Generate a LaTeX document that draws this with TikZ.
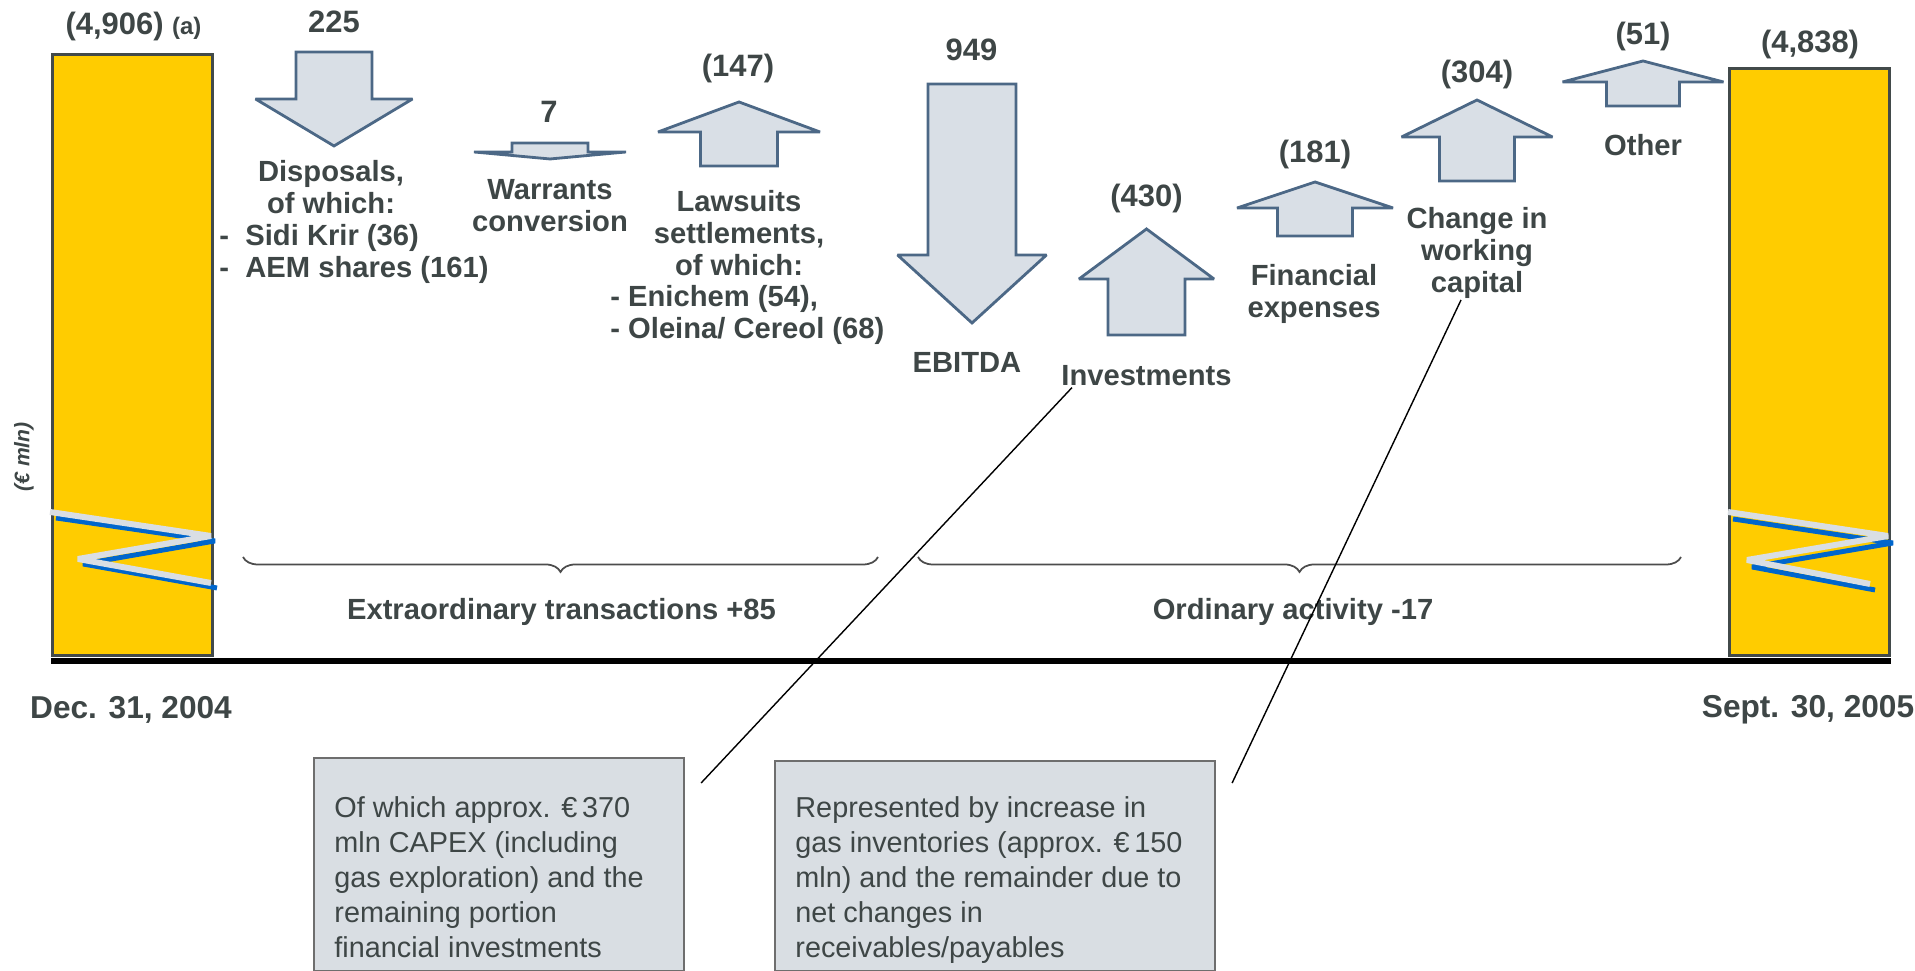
\documentclass[tikz,border=0pt]{standalone}
\usepackage{fontspec}
\setmainfont{Liberation Sans}
\usetikzlibrary{positioning,decorations.pathreplacing}

\definecolor{txtgray}{RGB}{62,70,70}
\definecolor{arrowfill}{RGB}{217,223,230}
\definecolor{arrowline}{RGB}{76,104,134}
\definecolor{baryellow}{RGB}{255,204,0}
\definecolor{barline}{RGB}{66,74,74}
\definecolor{breakblue}{RGB}{0,102,204}
\definecolor{breakgray}{RGB}{217,222,227}
\definecolor{boxfill}{RGB}{217,222,227}
\definecolor{boxline}{RGB}{110,110,110}

% block arrow: centre x, half shaft, half head, y of tail, y of head base, y of tip
\newcommand{\flowarrow}[6]{%
  \draw[blockarrow] (#1-#2,#4) -- (#1+#2,#4) -- (#1+#2,#5) -- (#1+#3,#5) -- (#1,#6) -- (#1-#3,#5) -- (#1-#2,#5) -- cycle;}

\begin{document}
\begin{tikzpicture}[thick,
    val/.style={font=\fontsize{8.8}{10}\selectfont\bfseries, text=txtgray, inner sep=0pt},
    lbl/.style={font=\fontsize{8.3}{9.1}\selectfont\bfseries, text=txtgray, align=center, inner sep=0pt},
    date/.style={font=\fontsize{9}{10}\selectfont\bfseries, text=txtgray, inner sep=0pt},
    blockarrow/.style={draw=arrowline, fill=arrowfill, line width=0.8pt, line join=miter, miter limit=2},
    bar/.style={draw=barline, fill=baryellow, line width=0.9pt, inner sep=0pt},
    breakline/.style={line join=bevel, line cap=butt},
    notebox/.style={draw=boxline, fill=boxfill, line width=0.6pt, inner sep=0pt},
    notetext/.style={font=\fontsize{8.2}{9.96}\selectfont, text=txtgray, align=left, inner sep=0pt},
    group/.style={decorate, decoration={brace, mirror, amplitude=0.15cm}, draw=black!70, line width=0.5pt},
    callout/.style={draw=black, line width=0.4pt}]
    \useasboundingbox (0,0) rectangle (19.15,9.71);

    % start and end bars
    \node[bar, minimum width=1.6cm, minimum height=6.01cm, anchor=south west] at (0.51,3.14) (startbar) {};
    \node[bar, minimum width=1.6cm, minimum height=5.87cm, anchor=south west] at (17.28,3.14) (endbar) {};
    \draw[line width=1.9pt] ([yshift=-0.04cm]startbar.south west) -- ([yshift=-0.04cm]endbar.south east);

    % axis breaks
    \draw[breakline, breakblue, line width=1.4pt] (0.56,4.53) -- (2.15,4.30) -- (0.83,4.07) -- (2.17,3.83);
    \draw[breakline, breakgray, line width=1.7pt] (0.50,4.59) -- (2.11,4.35) -- (0.78,4.12) -- (2.11,3.88);
    \draw[breakline, breakblue, line width=1.4pt] (17.33,4.52) -- (18.93,4.28) -- (17.52,4.04) -- (18.75,3.81);
    \draw[breakline, breakgray, line width=1.7pt] (17.28,4.59) -- (18.88,4.35) -- (17.47,4.11) -- (18.70,3.87);

    \node[val] at (1.335,9.44) (vstart) {(4,906) {\fontsize{6.8}{8}\selectfont (a)}};
    \node[val] at (18.10,9.26) (vend) {(4,838)};
    \node[rotate=90, font=\fontsize{6}{7}\selectfont\bfseries\itshape, text=txtgray, inner sep=0pt] at (0.24,5.14) (unit) {(€ mln)};
    \node[date] at (1.31,2.61) (dstart) {Dec. 31, 2004};
    \node[date] at (18.08,2.61) (dend) {Sept. 30, 2005};

    % flows
    \flowarrow{3.34}{0.38}{0.785}{9.19}{8.72}{8.25}
    \flowarrow{5.50}{0.38}{0.76}{8.28}{8.19}{8.12}
    \flowarrow{7.39}{0.385}{0.81}{8.05}{8.39}{8.69}
    \flowarrow{9.72}{0.44}{0.745}{8.87}{7.16}{6.48}
    \flowarrow{11.465}{0.385}{0.675}{6.36}{6.92}{7.42}
    \flowarrow{13.15}{0.375}{0.78}{7.35}{7.63}{7.89}
    \flowarrow{14.77}{0.375}{0.755}{7.90}{8.34}{8.71}
    \flowarrow{16.43}{0.365}{0.805}{8.65}{8.89}{9.10}

    \node[val] at (3.34,9.49) (v225) {225};
    \node[val] at (5.49,8.59) (v7) {7};
    \node[val] at (7.38,9.02) (v147) {(147)};
    \node[val] at (9.715,9.21) (v949) {949};
    \node[val] at (11.465,7.72) (v430) {(430)};
    \node[val] at (13.15,8.16) (v181) {(181)};
    \node[val] at (14.77,8.96) (v304) {(304)};
    \node[val] at (16.43,9.34) (v51) {(51)};

    \node[lbl] at (3.31,7.835) (disp) {Disposals,\\of which:};
    \node[lbl, align=left, anchor=west] at (2.18,7.17) (displist) {\makebox[0.26cm][l]{-}Sidi Krir (36)\\\makebox[0.26cm][l]{-}AEM shares (161)};
    \node[lbl] at (5.50,7.655) (warr) {Warrants\\conversion};
    \node[lbl] at (7.39,7.375) (laws) {Lawsuits\\settlements,\\of which:};
    \node[lbl, align=left, anchor=west] at (6.09,6.56) (lawslist) {- Enichem (54),\\- Oleina/ Cereol (68)};
    \node[lbl] at (9.67,6.09) (ebitda) {EBITDA};
    \node[lbl] at (11.465,5.95) (invest) {Investments};
    \node[lbl] at (13.14,6.775) (finexp) {Financial\\expenses};
    \node[lbl] at (14.77,7.18) (wcap) {Change in\\working\\capital};
    \node[lbl] at (16.43,8.26) (other) {Other};

    % groups
    \coordinate (exL) at (2.43,4.14);
    \coordinate (exR) at (8.78,4.14);
    \draw[group] (exL) -- (exR);
    \node[lbl] at (5.615,3.595) (extra) {Extraordinary transactions +85};
    \coordinate (orL) at (9.18,4.14);
    \coordinate (orR) at (16.81,4.14);
    \draw[group] (orL) -- (orR);
    \node[lbl] at (12.93,3.595) (ordin) {Ordinary activity -17};

    % notes
    \node[notebox, minimum width=3.70cm, minimum height=2.13cm, anchor=north west] at (3.13,2.14) (noteA) {};
    \node[notetext, below right=0.38cm and 0.2cm of noteA.north west] (noteAtxt) {Of which approx. €\,370\\mln CAPEX (including\\gas exploration) and the\\remaining portion\\financial investments};
    \node[notebox, minimum width=4.40cm, minimum height=2.10cm, anchor=north west] at (7.74,2.11) (noteB) {};
    \node[notetext, below right=0.35cm and 0.2cm of noteB.north west] (noteBtxt) {Represented by increase in\\gas inventories (approx. €\,150\\mln) and the remainder due to\\net changes in\\receivables/payables};

    \draw[callout] ([xshift=0.12cm]invest.south west) -- ([shift={(0.16,-0.26)}]noteA.north east);
    \draw[callout] ([xshift=-0.16cm]wcap.south) -- ([shift={(0.16,-0.23)}]noteB.north east);
\end{tikzpicture}
\end{document}
